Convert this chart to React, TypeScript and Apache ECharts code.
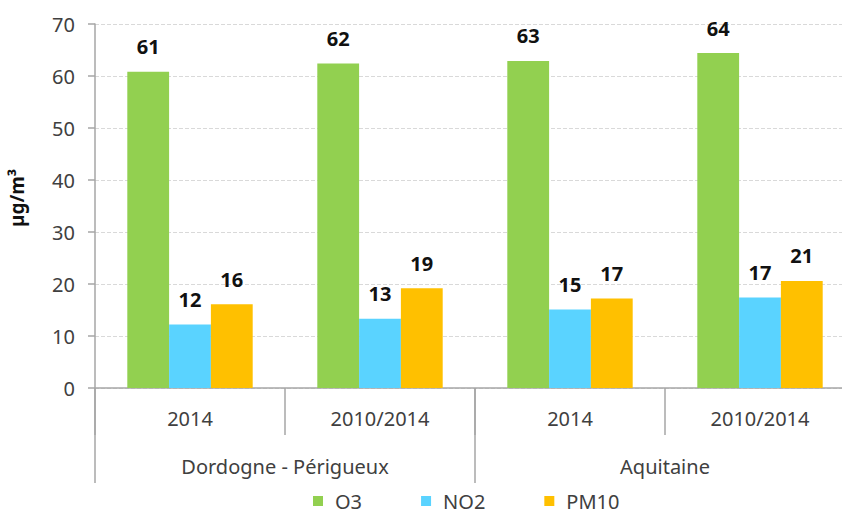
import React, { useEffect, useRef } from "react";
import * as echarts from "echarts";

const periods = ["2014", "2010/2014", "2014", "2010/2014"];
const regions = ["Dordogne - Périgueux", "Aquitaine"];
const o3 = [60.8, 62.4, 62.9, 64.4];
const no2 = [12.2, 13.3, 15.1, 17.4];
const pm10 = [16.1, 19.2, 17.2, 20.6];
const yTicks = { min: 0, max: 70, interval: 10 };

const FONT = "'Noto Sans', 'Open Sans', sans-serif";
const AXIS = "#a6a6a6";

export default function App() {
  const ref = useRef<HTMLDivElement>(null);
  useEffect(() => {
    if (!ref.current) return;
    const chart = echarts.init(ref.current, undefined, { renderer: "svg" });
    const label = {
      show: true,
      position: "top",
      distance: 15,
      fontFamily: FONT,
      fontSize: 20,
      fontWeight: "bold",
      color: "#111",
      formatter: (p: any) => String(Math.round(p.value)),
    };
    const mk = (name: string, data: number[], color: string) => ({
      name,
      type: "bar",
      data,
      barGap: "0%",
      barCategoryGap: "34%",
      itemStyle: { color },
      label,
    });
    chart.setOption({
      animation: false,
      textStyle: { fontFamily: FONT },
      grid: { left: 95, right: -13, top: 24, bottom: 125, containLabel: false, outerBoundsMode: "none" },
      legend: {
        left: 308,
        top: 486,
        icon: "rect",
        itemWidth: 10,
        itemHeight: 10,
        itemGap: 59,
        textStyle: { fontFamily: FONT, fontSize: 20, lineHeight: 20, color: "#404040", padding: [0, 0, 0, 7] },
        data: ["O3", "NO2", "PM10"],
      },
      xAxis: [
        {
          type: "category",
          data: periods,
          position: "bottom",
          axisLine: { show: true, lineStyle: { color: AXIS, width: 1.5 } },
          axisTick: { show: true, interval: 0, length: 47, lineStyle: { color: AXIS, width: 1.5 } },
          axisLabel: { interval: 0, margin: 20, fontSize: 20, color: "#404040", fontFamily: FONT },
        },
        {
          type: "category",
          data: regions,
          position: "bottom",
          axisLine: { show: false },
          axisTick: { show: true, interval: 0, length: 95, lineStyle: { color: AXIS, width: 1.5 } },
          axisLabel: { interval: 0, margin: 68, fontSize: 20, color: "#404040", fontFamily: FONT },
        },
      ],
      yAxis: {
        type: "value",
        min: yTicks.min,
        max: yTicks.max,
        interval: yTicks.interval,
        name: "µg/m³",
        nameLocation: "middle",
        nameGap: 69,
        nameRotate: 90,
        nameTextStyle: { fontFamily: FONT, fontSize: 19, fontWeight: "bold", color: "#111", padding: [0, 0, 0, 16] },
        axisLine: { show: true, lineStyle: { color: AXIS, width: 1.5 } },
        axisTick: { show: true, length: 7, lineStyle: { color: AXIS, width: 1.5 } },
        axisLabel: { margin: 20, fontSize: 20, color: "#404040", fontFamily: FONT },
        splitLine: { show: true, lineStyle: { color: "#d9d9d9", type: "dashed" } },
      },
      series: [mk("O3", o3, "#92D050"), mk("NO2", no2, "#5AD3FF"), mk("PM10", pm10, "#FFC000")],
    });
    return () => chart.dispose();
  }, []);
  return <div ref={ref} style={{ position: "absolute", left: 0, top: 0, width: 842, height: 513 }} />;
}
